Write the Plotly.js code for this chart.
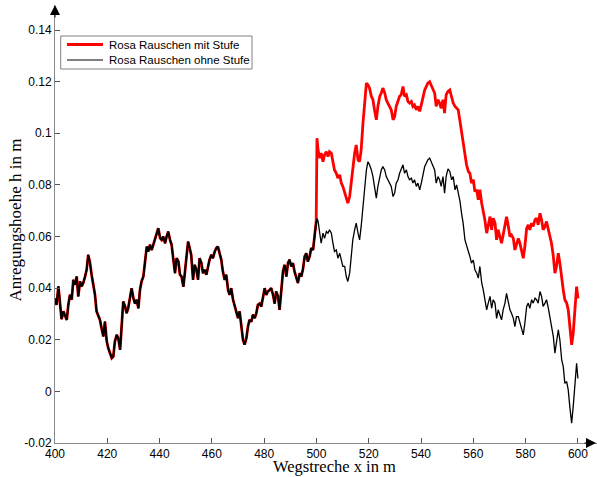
<!DOCTYPE html>
<html>
<head>
<meta charset="utf-8">
<script src="https://cdn.plot.ly/plotly-3.0.1.min.js"></script>
<style>html,body{margin:0;padding:0;background:#fff;}#chart{width:597px;height:477px;}</style>
</head>
<body>
<div id="chart"></div>
<script>
// Shared segment 400..500 m (both curves coincide)
const xCommon = [400.0,400.6,401.3,402.0,402.5,403.2,403.8,404.5,405.1,405.7,406.4,407.0,407.6,408.3,408.9,409.6,410.2,410.8,411.5,412.1,412.7,413.4,414.0,414.7,415.3,415.9,416.6,417.2,417.8,418.5,419.1,419.8,420.4,421.0,421.7,422.3,422.9,423.6,424.2,424.9,425.5,426.1,426.8,427.4,428.0,428.7,429.3,430.0,430.6,431.2,431.9,432.5,433.1,433.8,434.4,435.1,435.7,436.3,437.0,437.6,438.2,438.9,439.5,440.2,440.8,441.4,442.1,442.7,443.3,444.0,444.6,445.2,445.9,446.5,447.2,447.8,448.4,449.1,449.7,450.3,450.9,451.5,452.1,452.8,453.4,454.1,454.7,455.3,456.0,456.6,457.2,457.9,458.5,459.1,459.8,460.4,461.1,461.7,462.3,463.0,463.6,464.2,464.9,465.5,466.2,466.8,467.4,468.1,468.7,469.3,470.0,470.6,471.3,471.9,472.5,473.2,473.8,474.4,475.1,475.7,476.4,477.0,477.6,478.3,478.9,479.5,480.2,480.8,481.4,482.1,482.7,483.4,484.0,484.6,485.3,485.9,486.5,487.2,487.8,488.5,489.1,489.7,490.4,491.0,491.6,492.3,492.9,493.6,494.2,494.8,495.5,496.1,496.7,497.4,498.0,498.7,499.3,499.9];
const hCommon = [0.036,0.0335,0.0407,0.034,0.028,0.031,0.0297,0.0277,0.0335,0.0374,0.0355,0.0432,0.0413,0.0445,0.0368,0.0426,0.0407,0.042,0.0445,0.0471,0.0529,0.0497,0.0452,0.0407,0.0374,0.031,0.029,0.0277,0.0245,0.0213,0.027,0.0193,0.0167,0.0148,0.0129,0.0135,0.0193,0.0219,0.0206,0.0161,0.0258,0.0348,0.0329,0.0303,0.0322,0.036,0.04,0.036,0.034,0.0355,0.0322,0.0393,0.0426,0.0445,0.049,0.0561,0.0542,0.0568,0.0548,0.0568,0.0594,0.0613,0.0632,0.0594,0.0587,0.06,0.0574,0.06,0.0619,0.0587,0.0568,0.0516,0.0458,0.0516,0.0503,0.0452,0.0445,0.0405,0.0458,0.053,0.058,0.0555,0.0529,0.0432,0.049,0.0471,0.0432,0.0516,0.0497,0.0458,0.0471,0.0452,0.049,0.051,0.0529,0.0516,0.0542,0.0555,0.0561,0.0529,0.051,0.0465,0.0432,0.0452,0.0393,0.0374,0.04,0.0355,0.0335,0.031,0.0284,0.031,0.0245,0.02,0.0181,0.0206,0.0251,0.0277,0.027,0.0297,0.0284,0.0303,0.0335,0.034,0.0329,0.0368,0.04,0.0374,0.0387,0.0393,0.04,0.0374,0.034,0.0387,0.0368,0.0316,0.0387,0.0465,0.049,0.0445,0.0497,0.051,0.0484,0.0497,0.0465,0.0439,0.042,0.0458,0.0445,0.0471,0.0523,0.0535,0.0503,0.0523,0.0555,0.0548,0.0603,0.066];

// Segment 500..600 m
const xStep = [500.2,500.6,501.2,501.8,502.5,503.1,503.8,504.4,505.0,505.7,506.3,506.9,507.6,508.2,508.9,509.5,510.1,510.8,511.4,512.0,512.7,513.3,513.9,514.6,515.2,515.9,516.5,517.1,517.8,518.4,519.1,519.7,520.3,521.0,521.6,522.2,522.9,523.5,524.2,524.8,525.4,526.1,526.7,527.3,528.0,528.6,529.3,529.9,530.5,531.2,531.8,532.4,533.1,533.7,534.4,535.0,535.6,536.3,536.9,537.5,538.2,538.8,539.5,540.1,540.7,541.4,542.0,542.6,543.3,543.9,544.6,545.2,545.8,546.5,547.1,547.7,548.4,549.0,549.6,550.3,551.0,551.7,552.3,553.0,553.6,554.2,554.9,555.5,556.1,556.8,557.4,558.1,558.7,559.3,560.0,560.6,561.3,561.9,562.5,563.2,563.8,564.4,565.1,565.7,566.4,567.0,567.6,568.3,568.9,569.5,570.2,570.8,571.4,572.1,572.7,573.4,574.0,574.6,575.3,575.9,576.5,577.2,577.8,578.5,579.1,579.7,580.4,581.0,581.6,582.3,582.9,583.6,584.2,584.8,585.5,586.1,586.7,587.4,588.0,588.7,589.3,589.9,590.6,591.2,591.8,592.5,593.1,593.8,594.4,595.0,595.7,596.3,596.9,597.6,598.2,598.9,599.5,600.0];
const hMitStufe = [0.0981,0.0936,0.0904,0.0923,0.089,0.0917,0.0929,0.091,0.0929,0.0923,0.089,0.0858,0.0845,0.0826,0.0839,0.0807,0.0794,0.0768,0.0742,0.0729,0.0755,0.0807,0.0871,0.0923,0.0955,0.0897,0.089,0.0936,0.104,0.1117,0.1194,0.1188,0.1175,0.1143,0.113,0.1091,0.1052,0.1104,0.1143,0.1156,0.1175,0.1156,0.113,0.1117,0.1104,0.1091,0.1052,0.1065,0.1104,0.1123,0.1143,0.1149,0.1181,0.1143,0.1149,0.1123,0.1117,0.1123,0.1104,0.111,0.1091,0.1104,0.1085,0.111,0.1143,0.1168,0.1181,0.1194,0.12,0.1188,0.1168,0.1156,0.1104,0.113,0.1117,0.1097,0.113,0.1078,0.1149,0.1162,0.1168,0.1136,0.1117,0.1104,0.1097,0.1091,0.1046,0.1001,0.0968,0.0923,0.0878,0.0852,0.0845,0.0807,0.082,0.0774,0.0781,0.0742,0.0781,0.0729,0.0703,0.0665,0.0613,0.0639,0.0677,0.0626,0.0671,0.0652,0.0587,0.0626,0.06,0.0574,0.0606,0.0639,0.0677,0.0639,0.06,0.0606,0.0593,0.0548,0.0574,0.0593,0.0574,0.0542,0.0516,0.0561,0.0632,0.0645,0.0626,0.0652,0.0639,0.0665,0.0671,0.0645,0.069,0.0665,0.0626,0.0639,0.0658,0.0626,0.06,0.0574,0.0523,0.0458,0.0484,0.0535,0.0497,0.0432,0.0393,0.0355,0.0342,0.0316,0.0238,0.018,0.0225,0.0342,0.0406,0.036];
const hOhneStufe = [0.067,0.066,0.0613,0.0574,0.0613,0.0593,0.0619,0.0613,0.0626,0.0613,0.0574,0.0542,0.0548,0.0516,0.0535,0.0503,0.0484,0.0484,0.0445,0.0426,0.0458,0.0522,0.0587,0.0626,0.0652,0.0613,0.0587,0.0639,0.0703,0.0781,0.0858,0.089,0.0878,0.0858,0.0832,0.0794,0.0749,0.0794,0.0832,0.0858,0.0871,0.0858,0.0832,0.082,0.0807,0.0794,0.0755,0.0768,0.0807,0.082,0.0845,0.0858,0.0878,0.0845,0.0858,0.0832,0.082,0.0826,0.0807,0.082,0.0794,0.0807,0.0781,0.0807,0.0845,0.0871,0.0884,0.0897,0.0904,0.089,0.0871,0.0858,0.0807,0.0832,0.082,0.0794,0.0832,0.0768,0.0832,0.0862,0.0852,0.082,0.0832,0.0781,0.08,0.0774,0.0736,0.069,0.0652,0.0587,0.0561,0.0542,0.0522,0.0497,0.0509,0.0471,0.0458,0.0439,0.0484,0.042,0.0393,0.0355,0.0316,0.0342,0.0368,0.0322,0.0355,0.0342,0.0283,0.0316,0.0296,0.0277,0.0316,0.0342,0.038,0.0342,0.0316,0.0303,0.0283,0.0251,0.029,0.029,0.027,0.0245,0.0219,0.0264,0.0329,0.0342,0.0322,0.0355,0.0342,0.0361,0.0355,0.0342,0.0387,0.0368,0.0329,0.0342,0.0355,0.0322,0.029,0.0251,0.0212,0.0148,0.0186,0.0238,0.0199,0.0122,0.0096,0.0031,0.0038,0.0006,-0.0059,-0.0123,-0.0059,0.0044,0.0109,0.005];

const xTickVals = [400,420,440,460,480,500,520,540,560,580,600];
const yTickVals = [-0.02,0,0.02,0.04,0.06,0.08,0.1,0.12,0.14];
const yTickText = ['-0.02','0','0.02','0.04','0.06','0.08','0.1','0.12','0.14'];
const seriesNames = ['Rosa Rauschen mit Stufe','Rosa Rauschen ohne Stufe'];
const xTitle = 'Wegstreche x in m';
const yTitle = 'Anregungshoehe h in m';

const traces = [
  {x: xCommon.concat(xStep), y: hCommon.concat(hMitStufe), name: seriesNames[0], type:'scatter', mode:'lines', line:{color:'#ff0000', width:2.8}},
  {x: xCommon.concat(xStep), y: hCommon.concat(hOhneStufe), name: seriesNames[1], type:'scatter', mode:'lines', line:{color:'#000000', width:1.3}},
  {x: xCommon, y: hCommon, showlegend:false, type:'scatter', mode:'lines', line:{color:'#000000', width:1.9}}
];

const sans = 'Liberation Sans, Arial, sans-serif';
const serif = 'Liberation Serif, Times New Roman, serif';
const tickFont = {family:sans, size:12, color:'#000'};
const legFont = {family:sans, size:11.5, color:'#000'};

// legend geometry in paper coordinates
const L = {x0:0.0105, x1:0.3635, y0:0.8539, y1:0.9292, lx0:0.0221, lx1:0.0886, tx:0.0959, r1:0.9098, r2:0.8744};

const layout = {
  width:597, height:477,
  margin:{l:55, r:0, t:5, b:34},
  paper_bgcolor:'#fff', plot_bgcolor:'#fff',
  showlegend:false,
  xaxis:{range:[400,607.3], tickvals:xTickVals, ticks:'inside', ticklen:5, tickcolor:'#555', showline:true, linecolor:'#888', linewidth:1, showgrid:false, zeroline:false, tickfont:tickFont, ticklabelstandoff:0},
  yaxis:{range:[-0.02,0.1497], tickvals:yTickVals, ticktext:yTickText, ticks:'inside', ticklen:5, tickcolor:'#555', showline:true, linecolor:'#888', linewidth:1, showgrid:false, zeroline:false, tickfont:tickFont},
  shapes:[
    {type:'rect', xref:'paper', yref:'paper', x0:L.x0, x1:L.x1, y0:L.y0, y1:L.y1, line:{color:'#808080', width:1}, fillcolor:'#fff', layer:'above'},
    {type:'line', xref:'paper', yref:'paper', x0:L.lx0, x1:L.lx1, y0:L.r1, y1:L.r1, line:{color:'#ff0000', width:3}, layer:'above'},
    {type:'line', xref:'paper', yref:'paper', x0:L.lx0, x1:L.lx1, y0:L.r2, y1:L.r2, line:{color:'#000', width:1.2}, layer:'above'}
  ],
  annotations:[
    {xref:'paper', yref:'paper', x:L.tx, y:L.r1, xanchor:'left', yanchor:'middle', text:seriesNames[0], showarrow:false, font:legFont},
    {xref:'paper', yref:'paper', x:L.tx, y:L.r2, xanchor:'left', yanchor:'middle', text:seriesNames[1], showarrow:false, font:legFont},
    {xref:'paper', yref:'paper', x:0.515, y:-0.0776, xanchor:'center', yanchor:'bottom', borderpad:0, text:xTitle, showarrow:false, font:{family:serif, size:16.5, color:'#000'}},
    {xref:'paper', yref:'paper', x:-0.0738, y:0.508, xanchor:'center', yanchor:'middle', textangle:-90, text:yTitle, showarrow:false, font:{family:serif, size:17, color:'#000'}},
    {xref:'paper', yref:'paper', x:1, y:0, ax:-14, ay:0, showarrow:true, arrowhead:2, arrowsize:2, arrowwidth:1, arrowcolor:'#000', text:''},
    {xref:'paper', yref:'paper', x:0, y:1, ax:0, ay:14, showarrow:true, arrowhead:2, arrowsize:2, arrowwidth:1, arrowcolor:'#000', text:''}
  ]
};
Plotly.newPlot('chart', traces, layout, {displayModeBar:false, staticPlot:true});
</script>
</body>
</html>
